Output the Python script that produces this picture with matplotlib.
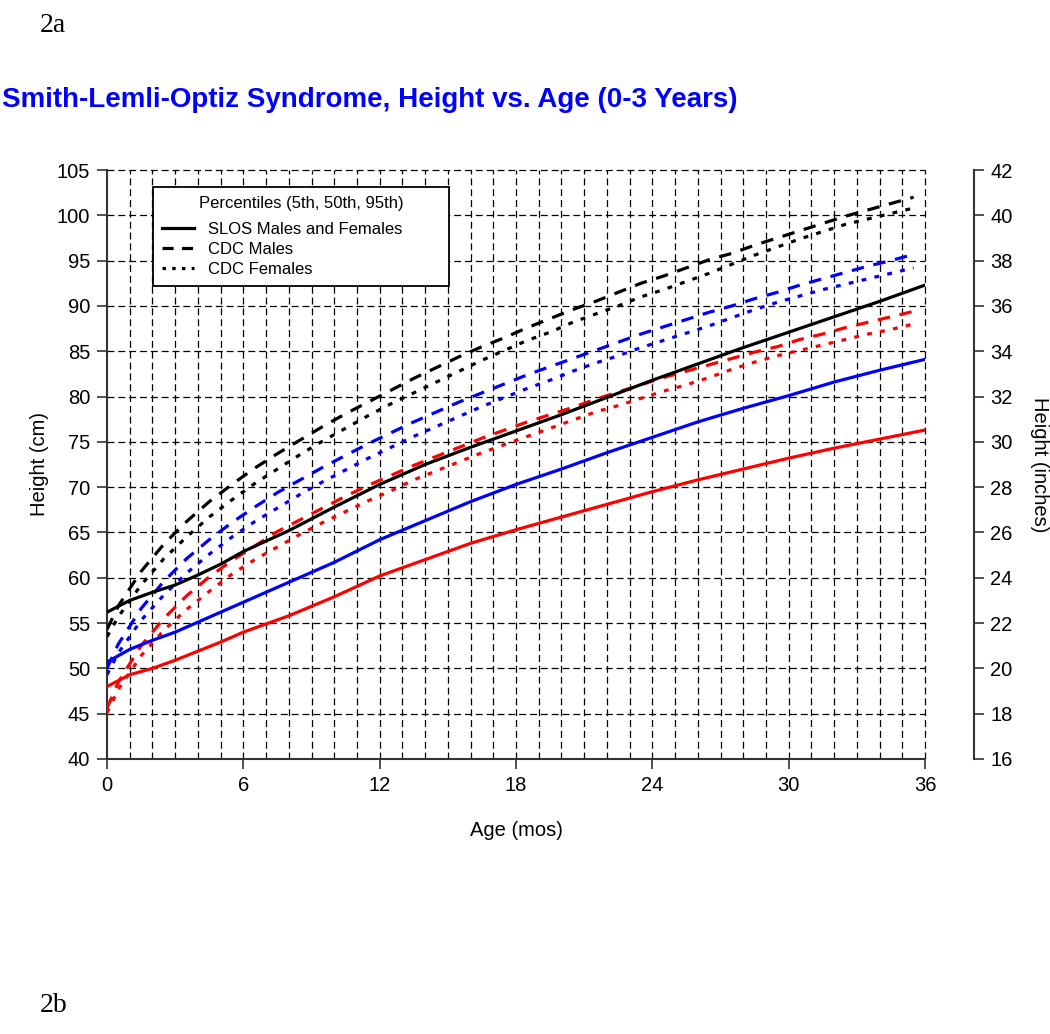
import matplotlib
matplotlib.use("Agg")
import matplotlib.pyplot as plt
from matplotlib.lines import Line2D

plt.rcParams['font.family'] = ['Liberation Sans', 'DejaVu Sans']
plt.rcParams['lines.scale_dashes'] = False

# ---------------- data ----------------
cdc_age = [0, 0.5, 1.5, 2.5, 3.5, 4.5, 5.5, 6.5, 7.5, 8.5, 9.5, 10.5, 11.5, 12.5,
           13.5, 14.5, 15.5, 16.5, 17.5, 18.5, 19.5, 20.5, 21.5, 22.5, 23.5, 24.5,
           25.5, 26.5, 27.5, 28.5, 29.5, 30.5, 31.5, 32.5, 33.5, 34.5, 35.5]

cdc_m_p5 = [45.6, 48.5, 52.5, 55.5, 58.0, 60.1, 61.9, 63.5, 65.1, 66.4, 67.7, 69.0, 70.2, 71.3,
            72.4, 73.4, 74.4, 75.4, 76.3, 77.2, 78.0, 78.8, 79.7, 80.5, 81.3, 82.1,
            82.8, 83.5, 84.2, 84.9, 85.5, 86.3, 86.9, 87.6, 88.2, 88.8, 89.4]
cdc_m_p50 = [50.0, 52.7, 56.6, 59.6, 62.1, 64.2, 66.1, 67.8, 69.4, 70.8, 72.2, 73.5, 74.8, 76.0,
             77.2, 78.3, 79.4, 80.4, 81.4, 82.4, 83.3, 84.2, 85.1, 86.0, 86.9, 87.7,
             88.5, 89.3, 90.0, 90.8, 91.5, 92.3, 93.0, 93.7, 94.4, 95.0, 95.7]
cdc_m_p95 = [54.3, 56.9, 60.7, 63.7, 66.2, 68.4, 70.3, 72.1, 73.7, 75.2, 76.7, 78.1, 79.4, 80.7,
             82.0, 83.2, 84.4, 85.5, 86.5, 87.6, 88.6, 89.6, 90.5, 91.5, 92.5, 93.3,
             94.2, 95.1, 95.8, 96.7, 97.5, 98.3, 99.1, 99.9, 100.6, 101.3, 102.0]

cdc_f_p5 = [45.1, 47.7, 51.4, 54.2, 56.5, 58.5, 60.4, 62.0, 63.4, 64.8, 66.1, 67.3, 68.5, 69.6,
            70.8, 71.8, 72.8, 73.8, 74.7, 75.6, 76.5, 77.4, 78.3, 79.0, 79.8, 80.6,
            81.3, 82.1, 83.0, 83.8, 84.5, 85.1, 85.7, 86.3, 86.9, 87.4, 88.0]
cdc_f_p50 = [49.3, 51.7, 55.3, 58.1, 60.5, 62.6, 64.5, 66.2, 67.7, 69.2, 70.6, 71.9, 73.2, 74.4,
             75.6, 76.7, 77.8, 78.9, 79.9, 80.9, 81.8, 82.8, 83.7, 84.5, 85.4, 86.2,
             87.0, 87.8, 88.7, 89.6, 90.4, 91.1, 91.8, 92.4, 93.0, 93.6, 94.2]
cdc_f_p95 = [53.5, 55.7, 59.2, 62.1, 64.5, 66.7, 68.6, 70.4, 72.0, 73.6, 75.1, 76.5, 77.9, 79.2,
             80.4, 81.6, 82.8, 84.0, 85.1, 86.2, 87.1, 88.2, 89.1, 90.0, 91.0, 91.8,
             92.7, 93.6, 94.6, 95.6, 96.5, 97.4, 98.2, 99.0, 99.6, 100.2, 100.8]

slos_age = [0, 1, 2, 3, 4, 5, 6, 8, 10, 12, 14, 16, 18, 20, 22, 24, 26, 28, 30, 32, 34, 36]
slos_p95 = [56.2, 57.5, 58.4, 59.2, 60.3, 61.5, 62.9, 65.2, 67.8, 70.3, 72.5, 74.4, 76.2, 78.0,
            79.9, 81.8, 83.6, 85.4, 87.1, 88.8, 90.5, 92.3]
slos_p50 = [50.7, 52.1, 53.1, 54.0, 55.1, 56.2, 57.3, 59.5, 61.7, 64.2, 66.3, 68.4, 70.3, 72.0,
            73.8, 75.5, 77.2, 78.7, 80.1, 81.6, 82.9, 84.1]
slos_p5 = [48.0, 49.3, 50.0, 50.9, 51.9, 52.9, 54.0, 55.8, 57.9, 60.2, 62.0, 63.8, 65.3, 66.7,
           68.1, 69.5, 70.8, 72.0, 73.2, 74.3, 75.3, 76.3]

x_ticks = [0, 6, 12, 18, 24, 30, 36]
y_ticks_cm = [40, 45, 50, 55, 60, 65, 70, 75, 80, 85, 90, 95, 100, 105]
y_ticks_in = [16, 18, 20, 22, 24, 26, 28, 30, 32, 34, 36, 38, 40, 42]

legend_title = "Percentiles (5th, 50th, 95th)"
legend_labels = ["SLOS Males and Females", "CDC Males", "CDC Females"]

# ---------------- figure ----------------
fig = plt.figure(figsize=(10.5, 10.34), dpi=100)
ax = fig.add_axes([107/1050, 1 - 759/1034, (925-107)/1050, (759-170)/1034])

ax.set_xlim(0, 36)
ax.set_ylim(40, 105)

# grid (every month, every 5 cm)
grid_kw = dict(color='black', lw=0.9, dashes=(5.0, 2.8), zorder=1, clip_on=False)
for m in range(1, 37):
    ax.axvline(m, **grid_kw)
for v in y_ticks_cm[1:]:
    ax.axhline(v, **grid_kw)

lw = 2.3
dash_m = (9.0, 7.0)
dash_f = (3.5, 6.0)
colors = {'p95': 'black', 'p50': '#0000ff', 'p5': '#ff0000'}

for key, m, f, s in [('p95', cdc_m_p95, cdc_f_p95, slos_p95),
                     ('p50', cdc_m_p50, cdc_f_p50, slos_p50),
                     ('p5', cdc_m_p5, cdc_f_p5, slos_p5)]:
    c = colors[key]
    ax.plot(cdc_age, m, color=c, lw=lw, dashes=dash_m, zorder=3)
    ax.plot(cdc_age, f, color=c, lw=lw, dashes=dash_f, zorder=3)
    ax.plot(slos_age, s, color=c, lw=lw, ls='-', zorder=4)

ax.set_xticks(x_ticks)
ax.set_yticks(y_ticks_cm)
ax.tick_params(axis='both', direction='out', length=7, width=1.2, colors='#333333',
               labelcolor='black', labelsize=14.5, pad=5)
for sp in ['top', 'right']:
    ax.spines[sp].set_visible(False)
for sp in ['left', 'bottom']:
    ax.spines[sp].set_linewidth(1.5)
    ax.spines[sp].set_color('#333333')

ax.set_xlabel("Age (mos)", fontsize=14.5)
ax.set_ylabel("Height (cm)", fontsize=14.5)
ax.xaxis.set_label_coords(0.5, (759 - 831) / 589)
ax.xaxis.label.set_va('center')
ax.yaxis.set_label_coords((40 - 107) / 818, 0.5)
ax.yaxis.label.set_va('center')

# right axis in inches
ax2 = ax.twinx()
ax2.set_ylim(16, 42)
ax2.set_yticks(y_ticks_in)
for sp in ['top', 'left', 'bottom']:
    ax2.spines[sp].set_visible(False)
ax2.spines['right'].set_position(('outward', 35))
ax2.spines['right'].set_linewidth(1.5)
ax2.spines['right'].set_color('#333333')
ax2.tick_params(axis='y', direction='out', length=7, width=1.2, colors='#333333',
                labelcolor='black', labelsize=14.5, pad=5)
ax2.set_ylabel("Height (inches)", fontsize=14.5, rotation=270)
ax2.yaxis.set_label_coords((1040 - 107) / 818, 0.5)
ax2.yaxis.label.set_va('center')
ax2.yaxis.label.set_ha('center')

# legend
handles = [Line2D([], [], color='black', lw=2.3, ls='-'),
           Line2D([], [], color='black', lw=2.3, dashes=(8.0, 6.0)),
           Line2D([], [], color='black', lw=2.3, dashes=(2.5, 4.5))]
x0 = (153 - 107) / 818
w = (449 - 153) / 818
top = (759 - 187) / 589
leg = ax.legend(handles, legend_labels, title=legend_title, loc='upper left',
                bbox_to_anchor=(x0, 0.3, w, top - 0.3), mode='expand', borderaxespad=0,
                fontsize=12, title_fontsize=12, frameon=True, fancybox=False, framealpha=1,
                edgecolor='black', handlelength=1.9, handletextpad=0.85,
                labelspacing=0.32, borderpad=0.55)
leg._legend_box.sep = 7.5
leg.get_frame().set_linewidth(1.3)
leg.set_zorder(10)

# titles / panel labels
fig.text(2/1050, 1 - 100/1034, "Smith-Lemli-Optiz Syndrome, Height vs. Age (0-3 Years)",
         color='#0000ff', fontsize=20, fontweight='bold', ha='left', va='center')
fig.text(40/1050, 1 - 25/1034, "2a", family='Liberation Serif', fontsize=20,
         ha='left', va='center')
fig.text(40/1050, 1 - 1005/1034, "2b", family='Liberation Serif', fontsize=20,
         ha='left', va='center')

fig.savefig("out.png", dpi=100)
